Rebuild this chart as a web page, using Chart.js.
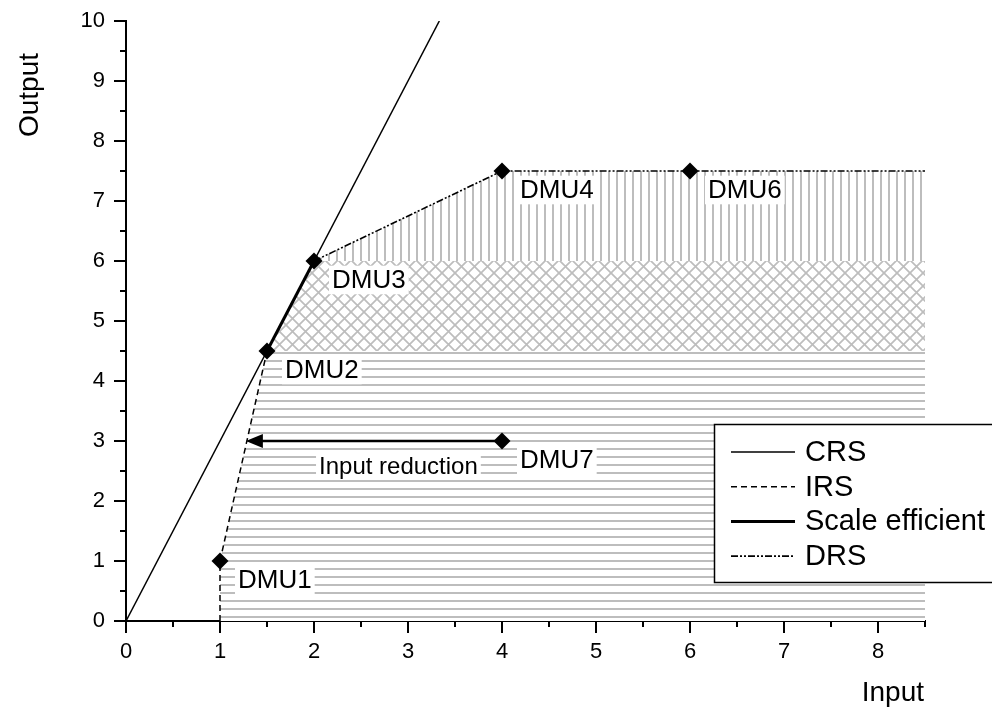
<!DOCTYPE html>
<html>
<head>
<meta charset="utf-8">
<script src="https://cdn.jsdelivr.net/npm/chart.js@4.4.0/dist/chart.umd.min.js"></script>
<style>
    html, body { margin: 0; padding: 0; background: #fff; }
</style>
</head>
<body>
<canvas id="chart" width="992" height="713"></canvas>
<script>
// frontier pieces, (input, output)
var crsX = [0, 10 / 3];
var crsY = [0, 10];
var irsX = [1, 1, 1.5];
var irsY = [0, 1, 4.5];
var effX = [1.5, 2];
var effY = [4.5, 6];
var drsX = [2, 4, 8.5];
var drsY = [6, 7.5, 7.5];

// shaded regions: upper edge + base level
var lowRegionX = [1, 1.5, 8.5];
var lowRegionY = [1, 4.5, 4.5];
var lowBase = 0;
var midRegionX = [1.5, 2, 8.5];
var midRegionY = [4.5, 6, 6];
var midBase = 4.5;
var topRegionX = [2, 4, 8.5];
var topRegionY = [6, 7.5, 7.5];
var topBase = 6;

// decision making units
var dmuNames = ['DMU1', 'DMU2', 'DMU3', 'DMU4', 'DMU6', 'DMU7'];
var dmuX = [1, 1.5, 2, 4, 6, 4];
var dmuY = [1, 4.5, 6, 7.5, 7.5, 3];

var xTicks = [0, 1, 2, 3, 4, 5, 6, 7, 8];
var yTicks = [0, 1, 2, 3, 4, 5, 6, 7, 8, 9, 10];

var legendNames = ['CRS', 'IRS', 'Scale efficient', 'DRS'];

var FONT = "'Liberation Sans', Arial, sans-serif";

function pts(xs, ys) {
    return xs.map(function (x, i) { return {x: x, y: ys[i]}; });
}

function hatch(kind) {
    var s = kind === 'cross' ? 13 : 8;
    var c = document.createElement('canvas');
    c.width = s;
    c.height = s;
    var g = c.getContext('2d');
    g.fillStyle = '#fff';
    g.fillRect(0, 0, s, s);
    g.fillStyle = '#bdbdbd';
    g.strokeStyle = '#bdbdbd';
    if (kind === 'h') {
        g.fillRect(0, 0, s, 2);
    } else if (kind === 'v') {
        g.fillRect(0, 0, 2, s);
    } else {
        g.lineWidth = 1.7;
        g.beginPath();
        g.moveTo(-1, -1); g.lineTo(s + 1, s + 1);
        g.moveTo(s + 1, -1); g.lineTo(-1, s + 1);
        g.stroke();
    }
    return g.createPattern(c, 'repeat');
}

var ctx = document.getElementById('chart').getContext('2d');

var styles = {
    crs: {borderWidth: 1.5, borderDash: []},
    irs: {borderWidth: 1.5, borderDash: [6, 4]},
    eff: {borderWidth: 3, borderDash: []},
    drs: {borderWidth: 1.6, borderDash: [7, 2, 2, 2, 2, 2]}
};

function lineSet(label, xs, ys, st) {
    return {
        label: label,
        data: pts(xs, ys),
        showLine: true,
        borderColor: '#000',
        borderWidth: st.borderWidth,
        borderDash: st.borderDash,
        pointRadius: 0,
        fill: false,
        order: 1
    };
}

function regionSet(xs, ys, base, pattern) {
    return {
        data: pts(xs, ys),
        showLine: true,
        borderWidth: 0,
        borderColor: 'rgba(0,0,0,0)',
        backgroundColor: pattern,
        pointRadius: 0,
        fill: {value: base},
        order: 5
    };
}

// x where the IRS segment reaches a given output
function irsInputAt(y) {
    for (var i = 1; i < irsX.length; i++) {
        if (y >= irsY[i - 1] && y <= irsY[i] && irsY[i] !== irsY[i - 1]) {
            return irsX[i - 1] + (y - irsY[i - 1]) * (irsX[i] - irsX[i - 1]) / (irsY[i] - irsY[i - 1]);
        }
    }
    return irsX[0];
}

function boxedText(c, text, x, y, size, align) {
    c.font = size + 'px ' + FONT;
    var w = c.measureText(text).width;
    var left = align === 'center' ? x - w / 2 : x;
    c.fillStyle = '#fff';
    c.fillRect(left - 3, y - size * 0.55, w + 6, size * 1.1);
    c.fillStyle = '#000';
    c.textAlign = 'left';
    c.textBaseline = 'middle';
    c.fillText(text, left, y + 1);
}

var decor = {
    id: 'decor',
    afterDatasetsDraw: function (chart) {
        var c = chart.ctx, a = chart.chartArea;
        var sx = chart.scales.x, sy = chart.scales.y;
        c.save();

        // tick marks, major and minor
        c.strokeStyle = '#000';
        c.lineWidth = 2;
        c.beginPath();
        var v, p;
        for (v = 0; v <= sx.max + 1e-9; v += 0.5) {
            p = Math.round(sx.getPixelForValue(v));
            c.moveTo(p, a.bottom);
            c.lineTo(p, a.bottom + (v % 1 === 0 ? 12 : 6));
        }
        for (v = 0; v <= sy.max + 1e-9; v += 0.5) {
            p = Math.round(sy.getPixelForValue(v));
            c.moveTo(a.left, p);
            c.lineTo(a.left - (v % 1 === 0 ? 12 : 6), p);
        }
        c.stroke();

        // input reduction arrow from DMU7 to the IRS frontier
        var ax = sx.getPixelForValue(dmuX[5]);
        var ay = sy.getPixelForValue(dmuY[5]);
        var tip = sx.getPixelForValue(irsInputAt(dmuY[5])) - 1;
        c.lineWidth = 2.5;
        c.beginPath();
        c.moveTo(ax, ay);
        c.lineTo(tip + 12, ay);
        c.stroke();
        c.fillStyle = '#000';
        c.beginPath();
        c.moveTo(tip, ay);
        c.lineTo(tip + 17, ay - 7);
        c.lineTo(tip + 17, ay + 7);
        c.closePath();
        c.fill();

        // DMU labels
        for (var i = 0; i < dmuNames.length; i++) {
            boxedText(c, dmuNames[i], sx.getPixelForValue(dmuX[i]) + 18, sy.getPixelForValue(dmuY[i]) + 19, 26, 'left');
        }
        boxedText(c, 'Input reduction', sx.getPixelForValue((dmuX[5] + irsInputAt(dmuY[5])) / 2) + 24, ay + 25, 24, 'center');

        // legend
        var lx = a.right - 211, ly = a.top + 403;
        c.fillStyle = '#fff';
        c.fillRect(lx, ly, 300, 159);
        c.strokeStyle = '#000';
        c.lineWidth = 1.5;
        c.setLineDash([]);
        c.strokeRect(lx + 0.5, ly + 0.5, 300, 158);
        var keys = ['crs', 'irs', 'eff', 'drs'];
        for (i = 0; i < keys.length; i++) {
            var st = styles[keys[i]];
            var yy = ly + 28 + i * 34.7;
            c.lineWidth = st.borderWidth;
            c.setLineDash(st.borderDash);
            c.beginPath();
            c.moveTo(lx + 17, yy);
            c.lineTo(lx + 81, yy);
            c.stroke();
            c.setLineDash([]);
            c.font = '29px ' + FONT;
            c.fillStyle = '#000';
            c.textAlign = 'left';
            c.textBaseline = 'middle';
            c.fillText(legendNames[i], lx + 91, yy + 1);
        }

        // axis titles
        c.font = '28px ' + FONT;
        c.textAlign = 'right';
        c.textBaseline = 'middle';
        c.fillText('Input', a.right - 1, 693);
        c.translate(30, 95);
        c.rotate(-Math.PI / 2);
        c.textAlign = 'center';
        c.fillText('Output', 0, 0);
        c.restore();
    }
};

new Chart(ctx, {
    type: 'scatter',
    data: {
        datasets: [
            {
                label: 'DMU',
                data: pts(dmuX, dmuY),
                pointStyle: 'rectRot',
                pointRadius: 8.5,
                pointHoverRadius: 8.5,
                backgroundColor: '#000',
                borderColor: '#000',
                borderWidth: 0,
                order: 0
            },
            lineSet('CRS', crsX, crsY, styles.crs),
            lineSet('IRS', irsX, irsY, styles.irs),
            lineSet('Scale efficient', effX, effY, styles.eff),
            lineSet('DRS', drsX, drsY, styles.drs),
            regionSet(topRegionX, topRegionY, topBase, hatch('v')),
            regionSet(midRegionX, midRegionY, midBase, hatch('cross')),
            regionSet(lowRegionX, lowRegionY, lowBase, hatch('h'))
        ]
    },
    options: {
        responsive: false,
        animation: false,
        layout: {padding: {left: 0, top: 21, right: 67, bottom: 0}},
        plugins: {
            legend: {display: false},
            tooltip: {enabled: false}
        },
        scales: {
            x: {
                type: 'linear',
                min: 0,
                max: 8.5,
                grid: {display: false},
                border: {display: true, color: '#000', width: 2},
                afterBuildTicks: function (s) { s.ticks = xTicks.map(function (t) { return {value: t}; }); },
                afterFit: function (s) { s.height = 92; s.paddingLeft = 0; s.paddingRight = 0; },
                ticks: {color: '#000', font: {size: 22, family: FONT}, padding: 10, maxRotation: 0}
            },
            y: {
                type: 'linear',
                min: 0,
                max: 10,
                grid: {display: false},
                border: {display: true, color: '#000', width: 2},
                afterBuildTicks: function (s) { s.ticks = yTicks.map(function (t) { return {value: t}; }); },
                afterFit: function (s) { s.width = 126; s.paddingTop = 0; s.paddingBottom = 0; },
                ticks: {color: '#000', font: {size: 22, family: FONT}, padding: 13}
            }
        }
    },
    plugins: [decor]
});
</script>
</body>
</html>
